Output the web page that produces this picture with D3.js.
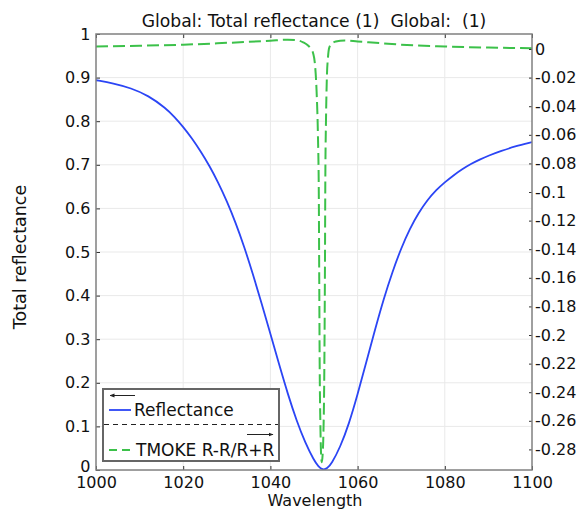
<!DOCTYPE html>
<html>
<head>
<meta charset="utf-8">
<script src="https://cdn.jsdelivr.net/npm/d3@7"></script>
<style>
  html, body { margin: 0; padding: 0; background: #fff; }
  svg { display: block; font-family: "DejaVu Sans", sans-serif; }
</style>
</head>
<body>
<svg id="chart" width="582" height="511"></svg>
<script>
// ---- data ----
const wavelengthR = [1000, 1004, 1008, 1012, 1016, 1018, 1020, 1022, 1024, 1026, 1028, 1030, 1032, 1034, 1036, 1038, 1040, 1042, 1044, 1046, 1048, 1050, 1051, 1052, 1053, 1054, 1056, 1058, 1060, 1062, 1064, 1066, 1068, 1070, 1072, 1074, 1076, 1078, 1080, 1082, 1084, 1086, 1088, 1090, 1093, 1096, 1100];
const reflectance = [0.894, 0.887, 0.876, 0.859, 0.83, 0.81, 0.787, 0.761, 0.731, 0.698, 0.66, 0.617, 0.568, 0.512, 0.449, 0.382, 0.312, 0.242, 0.174, 0.113, 0.062, 0.022, 0.008, 0.0, 0.003, 0.014, 0.052, 0.105, 0.173, 0.248, 0.322, 0.393, 0.455, 0.509, 0.554, 0.59, 0.619, 0.642, 0.66, 0.676, 0.69, 0.702, 0.712, 0.721, 0.732, 0.742, 0.752];

const wavelengthT = [1000, 1010, 1020, 1030, 1040, 1044, 1046, 1047.5, 1048.5, 1049.2, 1049.8, 1050.2, 1050.6, 1050.9, 1051.1, 1051.2, 1051.3, 1051.45, 1051.65, 1051.8, 1051.95, 1052.15, 1052.35, 1052.5, 1052.6, 1052.75, 1052.95, 1053.2, 1053.5, 1054, 1055, 1057, 1060, 1065, 1070, 1080, 1090, 1100];
const tmoke = [0.0018, 0.0023, 0.003, 0.0043, 0.0058, 0.0065, 0.0062, 0.0047, 0.0028, 0.0005, -0.003, -0.01, -0.03, -0.06, -0.1, -0.16, -0.22, -0.26, -0.285, -0.289, -0.285, -0.27, -0.23, -0.16, -0.09, -0.05, -0.02, -0.006, 0.001, 0.0035, 0.0052, 0.006, 0.0053, 0.0042, 0.003, 0.0018, 0.001, 0.0006];

const xTicks = [1000, 1020, 1040, 1060, 1080, 1100];
const yLeftTicks = [0, 0.1, 0.2, 0.3, 0.4, 0.5, 0.6, 0.7, 0.8, 0.9, 1];
const yRightTicks = [0, -0.02, -0.04, -0.06, -0.08, -0.1, -0.12, -0.14, -0.16, -0.18, -0.2, -0.22, -0.24, -0.26, -0.28];

const titleText = "Global: Total reflectance (1)\u00a0\u00a0Global:\u00a0\u00a0(1)";
const xLabel = "Wavelength";
const yLabel = "Total reflectance";
const seriesNames = ["Reflectance", "TMOKE R-R/R+R"];

// ---- layout ----
const L = 96, R = 532, T = 34, B = 470;
const svg = d3.select("#chart");

const x = d3.scaleLinear().domain([1000, 1100]).range([L, R]);
const yL = d3.scaleLinear().domain([0, 1]).range([B, T]);
const yR = d3.scaleLinear().domain([-0.2944, 0.0105]).range([B, T]);

// grid
const grid = svg.append("g");
grid.selectAll(".gx").data(xTicks.slice(1, -1)).enter().append("line")
  .attr("x1", d => x(d)).attr("x2", d => x(d)).attr("y1", T).attr("y2", B)
  .attr("stroke", "#e9e9e9").attr("stroke-width", 1);
grid.selectAll(".gy").data(yLeftTicks.slice(1, -1)).enter().append("line")
  .attr("x1", L).attr("x2", R).attr("y1", d => yL(d)).attr("y2", d => yL(d))
  .attr("stroke", "#e9e9e9").attr("stroke-width", 1);

// clip
svg.append("clipPath").attr("id", "clip").append("rect")
  .attr("x", L).attr("y", T).attr("width", R - L).attr("height", B - T);

const plot = svg.append("g").attr("clip-path", "url(#clip)");

const lineR = d3.line().x((d, i) => x(wavelengthR[i])).y(d => yL(d)).curve(d3.curveBasis);
const lineT = d3.line().x((d, i) => x(wavelengthT[i])).y(d => yR(d)).curve(d3.curveMonotoneX);

plot.append("path").datum(reflectance).attr("d", lineR)
  .attr("fill", "none").attr("stroke", "#2b45f5").attr("stroke-width", 1.8);
plot.append("path").datum(tmoke).attr("d", lineT)
  .attr("fill", "none").attr("stroke", "#3cc14a").attr("stroke-width", 2)
  .attr("stroke-dasharray", "12,5");

// axes
const fs = 16;
const axB = d3.axisBottom(x).tickValues(xTicks).tickSizeInner(-4).tickSizeOuter(0).tickPadding(7).tickFormat(d3.format("d"));
const axT = d3.axisTop(x).tickValues(xTicks).tickSizeInner(-4).tickSizeOuter(0).tickFormat("");
const axL = d3.axisLeft(yL).tickValues(yLeftTicks).tickSizeInner(-4).tickSizeOuter(0).tickPadding(5.5).tickFormat(d => String(+d.toFixed(1)));
const axR = d3.axisRight(yR).tickValues(yRightTicks).tickSizeInner(-3).tickSizeOuter(0).tickPadding(3).tickFormat(d => String(+d.toFixed(2)));

function styleAxis(g) {
  g.select(".domain").remove();
  g.selectAll(".tick line").attr("stroke", "#333").attr("stroke-width", 1);
  g.selectAll("text").attr("font-size", fs).attr("fill", "#111").attr("font-family", "DejaVu Sans");
}
svg.append("g").attr("transform", `translate(0,${B})`).call(axB).call(styleAxis);
svg.append("g").attr("transform", `translate(0,${T})`).call(axT).call(styleAxis);
const gL = svg.append("g").attr("transform", `translate(${L},0)`).call(axL).call(styleAxis);
gL.selectAll(".tick text").filter(d => d === 0).attr("y", -3.5);
svg.append("g").attr("transform", `translate(${R},0)`).call(axR).call(styleAxis);

// frame
svg.append("rect").attr("x", L).attr("y", T).attr("width", R - L).attr("height", B - T)
  .attr("fill", "none").attr("stroke", "#808080").attr("stroke-width", 1.5);

// title & labels
svg.append("text").attr("x", 314).attr("y", 27).attr("text-anchor", "middle")
  .attr("font-size", 17.2).attr("fill", "#111").text(titleText);
svg.append("text").attr("x", 315).attr("y", 506).attr("text-anchor", "middle")
  .attr("font-size", 16).attr("fill", "#111").text(xLabel);
svg.append("text").attr("transform", "translate(26,257) rotate(-90)").attr("text-anchor", "middle")
  .attr("font-size", 17.5).attr("fill", "#111").text(yLabel);

// legend
const lg = svg.append("g");
lg.append("rect").attr("x", 103).attr("y", 389).attr("width", 176).attr("height", 72)
  .attr("fill", "#fff").attr("stroke", "#666").attr("stroke-width", 2);
svg.append("defs").html(
  '<marker id="ah" viewBox="0 0 10 10" refX="9" refY="5" markerWidth="5" markerHeight="5" orient="auto-start-reverse"><path d="M0,1 L10,5 L0,9 z" fill="#222"/></marker>');
lg.append("line").attr("x1", 135).attr("x2", 110).attr("y1", 395.5).attr("y2", 395.5)
  .attr("stroke", "#222").attr("stroke-width", 1).attr("marker-end", "url(#ah)");
lg.append("line").attr("x1", 109).attr("x2", 131).attr("y1", 410).attr("y2", 410)
  .attr("stroke", "#2b45f5").attr("stroke-width", 1.8);
lg.append("text").attr("x", 134).attr("y", 416).attr("font-size", 17).attr("fill", "#111").text(seriesNames[0]);
lg.append("line").attr("x1", 104).attr("x2", 278).attr("y1", 424.5).attr("y2", 424.5)
  .attr("stroke", "#222").attr("stroke-width", 1).attr("stroke-dasharray", "5,4");
lg.append("line").attr("x1", 247).attr("x2", 273).attr("y1", 434.5).attr("y2", 434.5)
  .attr("stroke", "#222").attr("stroke-width", 1).attr("marker-end", "url(#ah)");
lg.append("line").attr("x1", 109).attr("x2", 131).attr("y1", 450).attr("y2", 450)
  .attr("stroke", "#3cc14a").attr("stroke-width", 2).attr("stroke-dasharray", "8,5");
lg.append("text").attr("x", 136).attr("y", 456).attr("font-size", 17).attr("fill", "#111").text(seriesNames[1]);
</script>
</body>
</html>
